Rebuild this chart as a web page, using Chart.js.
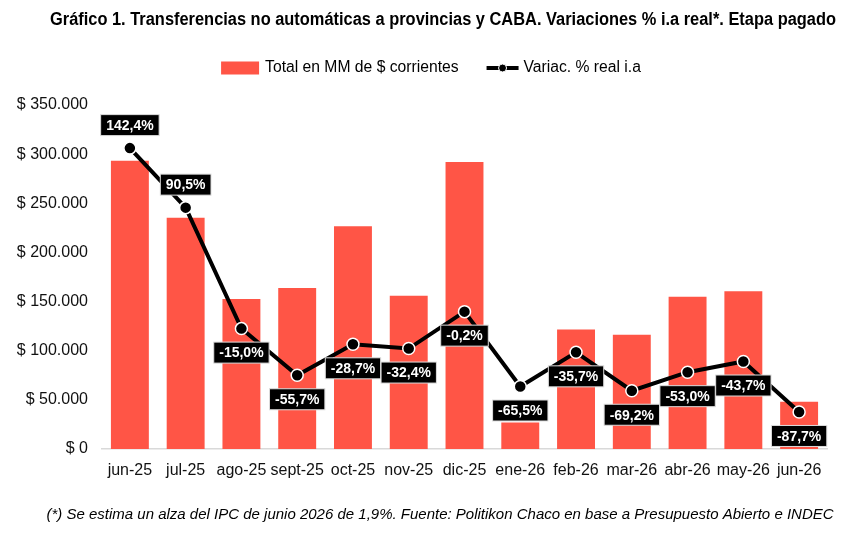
<!DOCTYPE html>
<html>
<head>
<meta charset="utf-8">
<style>
  html, body { margin: 0; padding: 0; background: #fff; }
  #wrap { width: 865px; height: 540px; }
</style>
</head>
<body>
<div id="wrap"><canvas id="chart"></canvas></div>
<script src="https://cdn.jsdelivr.net/npm/chart.js@4.4.1/dist/chart.umd.min.js"></script>
<script>
// data
const months = ["jun-25", "jul-25", "ago-25", "sept-25", "oct-25", "nov-25", "dic-25",
                "ene-26", "feb-26", "mar-26", "abr-26", "may-26", "jun-26"];
const totalMM = [293400, 235400, 152500, 163700, 226700, 155800, 292100,
                 27000, 121600, 116200, 154800, 160600, 48100];
const variacion = [142.4, 90.5, -15.0, -55.7, -28.7, -32.4, -0.2,
                   -65.5, -35.7, -69.2, -53.0, -43.7, -87.7];

const titleText = "Gráfico 1. Transferencias no automáticas a provincias y CABA. Variaciones % i.a real*. Etapa pagado";
const footText = "(*) Se estima un alza del IPC de junio 2026 de 1,9%. Fuente: Politikon Chaco en base a Presupuesto Abierto e INDEC";
const barLabel = "Total en MM de $ corrientes";
const lineLabel = "Variac. % real i.a";

const RED = "#ff5546";
const SANS = '"Liberation Sans", Arial, sans-serif';

function money(v) {
  return "$ " + String(v).replace(/\B(?=(\d{3})+(?!\d))/g, ".");
}
function pct(v) {
  return v.toFixed(1).replace(".", ",") + "%";
}

// draw text squeezed horizontally (the original uses a condensed face)
function narrowText(ctx, txt, x, y, squeeze) {
  ctx.save();
  ctx.translate(x, y);
  ctx.scale(squeeze, 1);
  ctx.fillText(txt, 0, 0);
  ctx.restore();
}

// black boxes with the % values
const pointLabels = {
  id: "pointLabels",
  afterDatasetsDraw(chart) {
    const ctx = chart.ctx;
    const meta = chart.getDatasetMeta(0);
    ctx.save();
    ctx.font = "bold 14px " + SANS;
    ctx.textAlign = "center";
    ctx.textBaseline = "middle";
    meta.data.forEach((pt, i) => {
      const txt = pct(variacion[i]);
      const w = ctx.measureText(txt).width + 11;
      const h = 21;
      const cy = i < 2 ? pt.y - 23 : pt.y + 24;
      ctx.fillStyle = "#000";
      ctx.fillRect(pt.x - w / 2, cy - h / 2, w, h);
      ctx.strokeStyle = "#ddd";
      ctx.lineWidth = 1;
      ctx.strokeRect(pt.x - w / 2, cy - h / 2, w, h);
      ctx.fillStyle = "#fff";
      ctx.fillText(txt, pt.x, cy + 1);
    });
    ctx.restore();
  }
};

// title, legend and footnote
const frame = {
  id: "frame",
  afterDraw(chart) {
    const ctx = chart.ctx;
    ctx.save();
    ctx.fillStyle = "#000";
    ctx.textBaseline = "middle";

    ctx.textAlign = "left";
    ctx.font = "bold 18px " + SANS;
    const tw = ctx.measureText(titleText).width;
    const sq = Math.min(1, 786 / tw);
    narrowText(ctx, titleText, 443 - tw * sq / 2, 20, sq);

    // legend
    ctx.font = "16px " + SANS;
    const s2 = 0.98;
    const w1 = ctx.measureText(barLabel).width * s2;
    const w2 = ctx.measureText(lineLabel).width * s2;
    const total = 38 + 6 + w1 + 28 + 32 + 5 + w2;
    let x = 431 - total / 2;
    const ly = 68;
    ctx.fillStyle = RED;
    ctx.fillRect(x, ly - 6.5, 38, 13);
    x += 44;
    ctx.fillStyle = "#000";
    narrowText(ctx, barLabel, x, ly, s2);
    x += w1 + 28;
    ctx.strokeStyle = "#000";
    ctx.lineWidth = 4;
    ctx.beginPath();
    ctx.moveTo(x, ly);
    ctx.lineTo(x + 32, ly);
    ctx.stroke();
    ctx.beginPath();
    ctx.arc(x + 16, ly, 4, 0, Math.PI * 2);
    ctx.fill();
    ctx.strokeStyle = "#fff";
    ctx.lineWidth = 1;
    ctx.stroke();
    x += 37;
    ctx.fillStyle = "#000";
    narrowText(ctx, lineLabel, x, ly, s2);

    ctx.textAlign = "center";
    ctx.font = "italic 15px " + SANS;
    ctx.fillText(footText, 440, 515);
    ctx.restore();
  }
};

new Chart(document.getElementById("chart"), {
  data: {
    labels: months,
    datasets: [
      {
        type: "line",
        label: lineLabel,
        data: variacion,
        yAxisID: "y1",
        borderColor: "#000",
        borderWidth: 4,
        tension: 0,
        pointRadius: 6,
        pointBackgroundColor: "#000",
        pointBorderColor: "#fff",
        pointBorderWidth: 1.5,
        order: 0
      },
      {
        type: "bar",
        label: barLabel,
        data: totalMM,
        yAxisID: "y",
        backgroundColor: RED,
        barPercentage: 0.68,
        categoryPercentage: 1,
        order: 1
      }
    ]
  },
  options: {
    responsive: true,
    maintainAspectRatio: false,
    animation: false,
    layout: { padding: { top: 105, right: 38, left: 0, bottom: 0 } },
    plugins: {
      legend: { display: false },
      title: { display: false },
      tooltip: { enabled: false }
    },
    scales: {
      x: {
        grid: { display: false },
        border: { display: true, color: "#d9d9d9", width: 1.5 },
        ticks: { color: "#111", font: { family: SANS, size: 16 }, padding: 4, maxRotation: 0, autoSkip: false },
        afterFit(scale) { scale.height = 91; }
      },
      y: {
        min: 0,
        max: 350000,
        grid: { display: false },
        border: { display: false },
        ticks: {
          stepSize: 50000,
          color: "#111",
          font: { family: SANS, size: 16 },
          padding: 6,
          callback: v => money(v)
        },
        afterFit(scale) { scale.width = 102; }
      },
      y1: {
        display: false,
        min: -120,
        max: 180
      }
    }
  },
  plugins: [pointLabels, frame]
});
</script>
</body>
</html>
